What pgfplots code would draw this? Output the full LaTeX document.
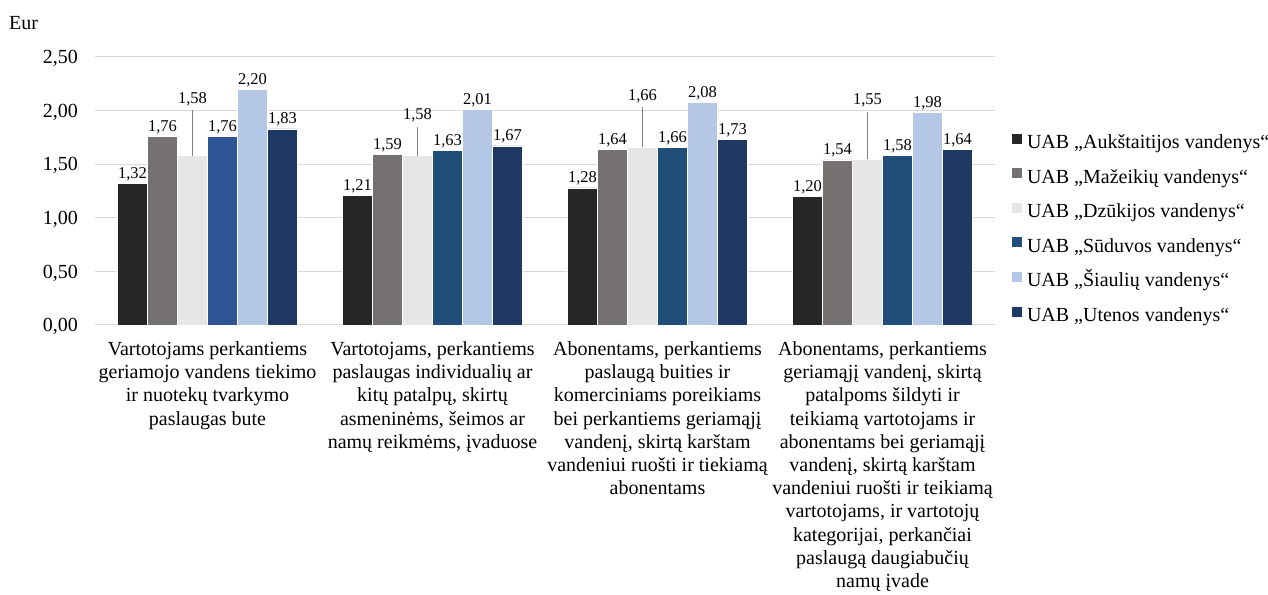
\documentclass[border=0pt]{standalone}
\usepackage{pgfplots}
\usepackage{pgfplotstable}
\pgfplotsset{compat=1.18}
\usepackage{fontspec}
\setmainfont{Liberation Serif}
\definecolor{c1}{HTML}{262626}
\definecolor{c2}{HTML}{767171}
\definecolor{c3}{HTML}{E7E6E6}
\definecolor{c4}{HTML}{1F4E79}
\definecolor{c4b}{HTML}{2F5597}
\definecolor{c5}{HTML}{B4C7E7}
\definecolor{c6}{HTML}{203864}
\definecolor{gridc}{HTML}{D9D9D9}
\definecolor{leader}{HTML}{7F7F7F}
\pgfkeys{/pgf/number format/.cd, use comma, fixed, fixed zerofill, precision=2, assume math mode=true}

\pgfplotstableread{
x y
0 1.32
1 1.21
2 1.28
3 1.20
}\dA
\pgfplotstableread{
x y
0 1.76
1 1.59
2 1.64
3 1.54
}\dB
\pgfplotstableread{
x y err
0 1.58 0.425
1 1.58 0.267
2 1.66 0.373
3 1.55 0.437
}\dC
\pgfplotstableread{
x y
1 1.63
2 1.66
3 1.58
}\dD
\pgfplotstableread{
x y
0 1.76
}\dDa
\pgfplotstableread{
x y
0 2.20
1 2.01
2 2.08
3 1.98
}\dE
\pgfplotstableread{
x y
0 1.83
1 1.67
2 1.73
3 1.64
}\dF

\begin{document}
\begin{tikzpicture}[x=1pt,y=1pt]
\useasboundingbox (0,0) rectangle (1268,594);
\node[anchor=base west, inner sep=0pt, font=\fontsize{20}{24}\selectfont] at (9pt,564pt) {Eur};
\begin{axis}[
  at={(95pt,269pt)}, anchor=south west,
  scale only axis, width=900pt, height=268pt,
  xmin=-0.5, xmax=3.5, ymin=0, ymax=2.5,
  ybar=0pt, bar width=30pt,
  clip=false,
  ytick={0,0.5,1,1.5,2,2.5},
  xtick={0,1,2,3},
  xticklabels={
    {Vartotojams perkantiems\\geriamojo vandens tiekimo\\ir nuotekų tvarkymo\\paslaugas bute},
    {Vartotojams, perkantiems\\paslaugas individualių ar\\kitų patalpų, skirtų\\asmeninėms, šeimos ar\\namų reikmėms, įvaduose},
    {Abonentams, perkantiems\\paslaugą buities ir\\komerciniams poreikiams\\bei perkantiems geriamąjį\\vandenį, skirtą karštam\\vandeniui ruošti ir tiekiamą\\abonentams},
    {Abonentams, perkantiems\\geriamąjį vandenį, skirtą\\patalpoms šildyti ir\\teikiamą vartotojams ir\\abonentams bei geriamąjį\\vandenį, skirtą karštam\\vandeniui ruošti ir teikiamą\\vartotojams, ir vartotojų\\kategorijai, perkančiai\\paslaugą daugiabučių\\namų įvade}
  },
  xticklabel style={align=center, anchor=north, inner sep=0pt, yshift=-16.5pt, font=\fontsize{20}{23.2}\selectfont},
  yticklabel style={anchor=base east, inner sep=0pt, xshift=-17pt, yshift=-6.75pt, font=\fontsize{20}{23.5}\selectfont},
  major tick length=0pt,
  axis line style={draw=none},
  tick style={draw=none},
  ymajorgrids,
  grid style={color=gridc, line width=1pt},
  nodes near coords,
  nodes near coords style={anchor=base, yshift=5pt, inner sep=0pt, font=\fontsize{16.5}{19}\selectfont, text=black},
  every axis plot post/.append style={legend image code/.code={\fill[##1, draw=none] (0pt,0pt) rectangle (10pt,10pt);}},
  legend cell align=left,
  legend style={at={(rel axis cs:1,1)}, anchor=north west, xshift=17pt, yshift=-76.5pt,
    draw=none, fill=none, inner sep=0pt, outer sep=0pt,
    nodes={inner sep=0pt, text height=14pt, text depth=4pt},
    row sep=15.6pt, column sep=5pt,
    font=\fontsize{20}{24}\selectfont},
]
\addplot[fill=c1, draw=white, line width=0.5pt, bar shift=-75pt] table[x=x,y=y]{\dA};
\addlegendentry{UAB „Aukštaitijos vandenys“}
\addplot[fill=c2, draw=white, line width=0.5pt, bar shift=-45pt] table[x=x,y=y]{\dB};
\addlegendentry{UAB „Mažeikių vandenys“}
\addplot[fill=c3, draw=white, line width=0.5pt, bar shift=-15pt,
  visualization depends on={107.2*\thisrow{err}+2 \as \lift},
  nodes near coords style={yshift=\lift pt},
  error bars/.cd, y dir=plus, y explicit, error mark=none,
  error bar style={color=leader, line width=0.8pt}] table[x=x,y=y,y error=err]{\dC};
\addlegendentry{UAB „Dzūkijos vandenys“}
\addplot[fill=c4, draw=white, line width=0.5pt, bar shift=15pt] table[x=x,y=y]{\dD};
\addlegendentry{UAB „Sūduvos vandenys“}
\addplot[fill=c5, draw=white, line width=0.5pt, bar shift=45pt] table[x=x,y=y]{\dE};
\addlegendentry{UAB „Šiaulių vandenys“}
\addplot[fill=c6, draw=white, line width=0.5pt, bar shift=75pt] table[x=x,y=y]{\dF};
\addlegendentry{UAB „Utenos vandenys“}
\addplot[fill=c4b, draw=white, line width=0.5pt, bar shift=15pt, forget plot] table[x=x,y=y]{\dDa};
\end{axis}
\end{tikzpicture}
\end{document}
